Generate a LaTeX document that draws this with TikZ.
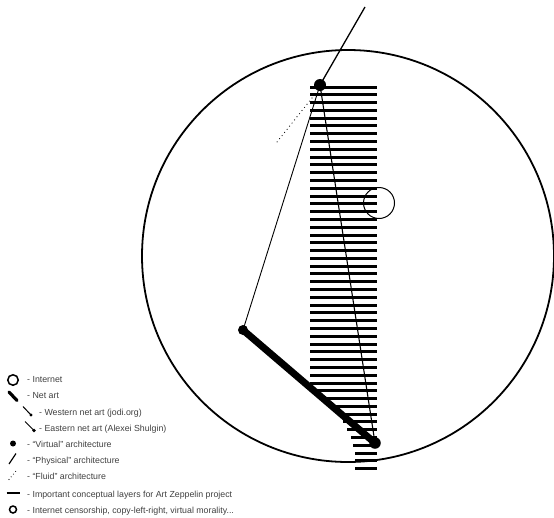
\documentclass[tikz,border=0pt]{standalone}
\usepackage{fontspec}
\setmainfont{Liberation Sans}
\begin{document}
\begin{tikzpicture}[x=1pt,y=-1pt,
  dotnode/.style={circle,fill=black,inner sep=0pt,minimum size=#1},
  bar/.style={line width=3pt},
  legtext/.style={anchor=base west,inner sep=0pt,font=\fontsize{8.8}{10}\selectfont,text=black!75},
  thinline/.style={line width=1.1pt},
]
\useasboundingbox (0,0) rectangle (554,517);
% big circle (Internet)
\node[circle,draw,line width=1.8pt,minimum size=412pt,inner sep=0pt] (globe) at (348,256) {};
% conceptual layers
\foreach \i in {0,...,38}
  \draw[bar] (310,{87+7.79*\i}) -- (377,{87+7.79*\i});
\foreach \i/\l in {39/314,40/323,41/332,42/340,43/343,44/347,45/351,46/353,47/355,48/355,49/355}
  \draw[bar] (\l,{87+7.79*\i}) -- (377,{87+7.79*\i});
% small circle (censorship)
\node[circle,draw,line width=1pt,minimum size=31pt,inner sep=0pt] (cens) at (379,203) {};
% architecture nodes
\node[dotnode=12pt] (top) at (320,85) {};
\node[dotnode=10pt] (left) at (243,330) {};
\node[dotnode=11.5pt] (br) at (375,443) {};
\coordinate (tip) at (365,7);
\coordinate (f1) at (312,98);
\coordinate (f2) at (277,142);
% physical lines
\draw[line width=1.3pt] (tip) -- (top.center);
\draw[line width=0.9pt] (top.center) -- (left.center);
\draw[thinline] (top.center) -- (br.center);
% fluid
\draw[line width=1.2pt,line cap=round,dash pattern=on 0pt off 4pt] (f1) -- (f2);
% net art
\draw[line width=7pt,line cap=round] (left.center) -- (br.center);
% ---------- legend ----------
\node[circle,draw,line width=1.5pt,minimum size=10.5pt,inner sep=0pt] (li) at (13,380) {};
\node[legtext] (ti) at (27,382) {- Internet};
\coordinate (ln1) at (9,392); \coordinate (ln2) at (17,400.5);
\draw[line width=3.2pt,line cap=round] (ln1) -- (ln2);
\node[legtext] (tn) at (27,398.6) {- Net art};
\coordinate (lw1) at (23,406.5); \coordinate (lw2) at (31,415);
\draw[line width=1pt] (lw1) -- (lw2);
\node[dotnode=3.4pt] (lwd) at (lw2) {};
\node[legtext] (tw) at (39,415) {- Western net art (jodi.org)};
\coordinate (le1) at (25,421.5); \coordinate (le2) at (34,430.5);
\draw[line width=1pt] (le1) -- (le2);
\node[dotnode=3.8pt] (led) at (le2) {};
\node[legtext] (te) at (39,431) {- Eastern net art (Alexei Shulgin)};
\node[dotnode=6pt] (lv) at (13,443.5) {};
\node[legtext] (tv) at (27,447.4) {- “Virtual” architecture};
\coordinate (lp1) at (9,464); \coordinate (lp2) at (16,453.5);
\draw[line width=1.2pt] (lp1) -- (lp2);
\node[legtext] (tp) at (27,463.6) {- “Physical” architecture};
\coordinate (lf1) at (9,479.5); \coordinate (lf2) at (16,471);
\draw[line width=1.1pt,line cap=round,dash pattern=on 0pt off 3.5pt] (lf1) -- (lf2);
\node[legtext] (tf) at (27,479.8) {- “Fluid” architecture};
\coordinate (lc1) at (6.5,493); \coordinate (lc2) at (20,493);
\draw[line width=2pt] (lc1) -- (lc2);
\node[legtext] (tc) at (27,497) {- Important conceptual layers for Art Zeppelin project};
\node[circle,draw,line width=1.5pt,minimum size=7pt,inner sep=0pt] (lo) at (13,509.5) {};
\node[legtext] (to) at (27,513.3) {- Internet censorship, copy-left-right, virtual morality...};
\end{tikzpicture}
\end{document}
